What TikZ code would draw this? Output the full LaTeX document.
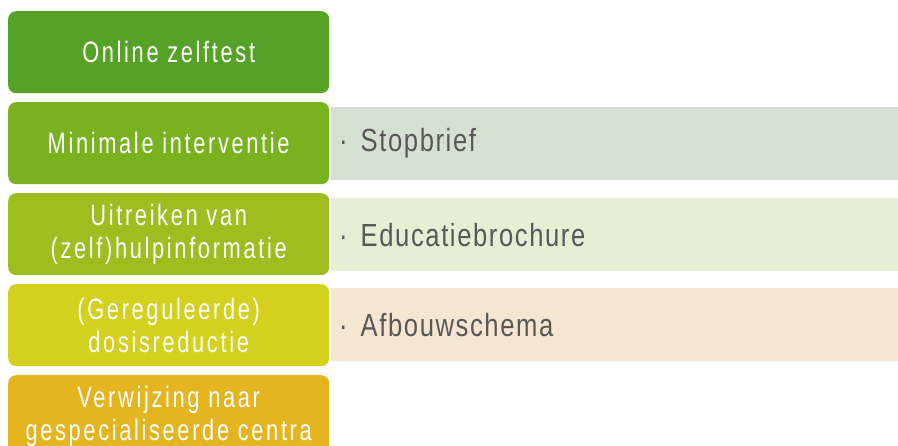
\documentclass[tikz,border=0pt]{standalone}
\usepackage{fontspec}
\setmainfont{Liberation Sans}[FakeStretch=0.74,LetterSpace=9]
\newfontfamily\barfont{Liberation Sans}[FakeStretch=0.8,LetterSpace=5]
\definecolor{stepA}{HTML}{55A227}
\definecolor{stepB}{HTML}{78B31F}
\definecolor{stepC}{HTML}{9EBE20}
\definecolor{stepD}{HTML}{D3D01E}
\definecolor{stepE}{HTML}{E5B51F}
\definecolor{barA}{HTML}{D5E1D0}
\definecolor{barB}{HTML}{E6EED3}
\definecolor{barC}{HTML}{F5E6D2}
\definecolor{bartext}{HTML}{585858}
\tikzset{
  stepbox/.style={fill=#1, draw=none, rounded corners=8pt, minimum width=321pt,
    minimum height=82pt, inner sep=0pt, text=white, align=center,
    font=\fontsize{29.5}{33}\selectfont, anchor=north west},
  itembar/.style={fill=#1, draw=none, minimum width=567pt, minimum height=73pt,
    inner sep=0pt, anchor=north west, text=bartext},
  itemtext/.style={anchor=west, inner sep=0pt, text=bartext,
    font=\barfont\fontsize{32}{38}\selectfont},
}
\begin{document}
\begin{tikzpicture}[x=1pt,y=-1pt]
\useasboundingbox (0,0) rectangle (898,446);
\clip (0,0) rectangle (898,446);
\fill[white] (0,0) rectangle (898,446);
% intervention steps
\node[stepbox=stepA] (s1) at (8,11)  {Online zelftest};
\node[stepbox=stepB] (s2) at (8,102) {Minimale interventie};
\node[stepbox=stepC] (s3) at (8,193) {Uitreiken van\\(zelf)hulpinformatie};
\node[stepbox=stepD] (s4) at (8,284) {(Gereguleerde)\\dosisreductie};
\node[stepbox=stepE] (s5) at (8,375) {Verwijzing naar\\gespecialiseerde centra};
% tools per step
\node[itembar=barA] (b1) at (331,107) {};
\node[itembar=barB] (b2) at (331,198) {};
\node[itembar=barC] (b3) at (331,288) {};
\node[itemtext] (t1) at ([xshift=8pt]b1.west) {·\hspace{13pt}Stopbrief};
\node[itemtext] (t2) at ([xshift=8pt]b2.west) {·\hspace{13pt}Educatiebrochure};
\node[itemtext] (t3) at ([xshift=8pt]b3.west) {·\hspace{13pt}Afbouwschema};
\end{tikzpicture}
\end{document}
